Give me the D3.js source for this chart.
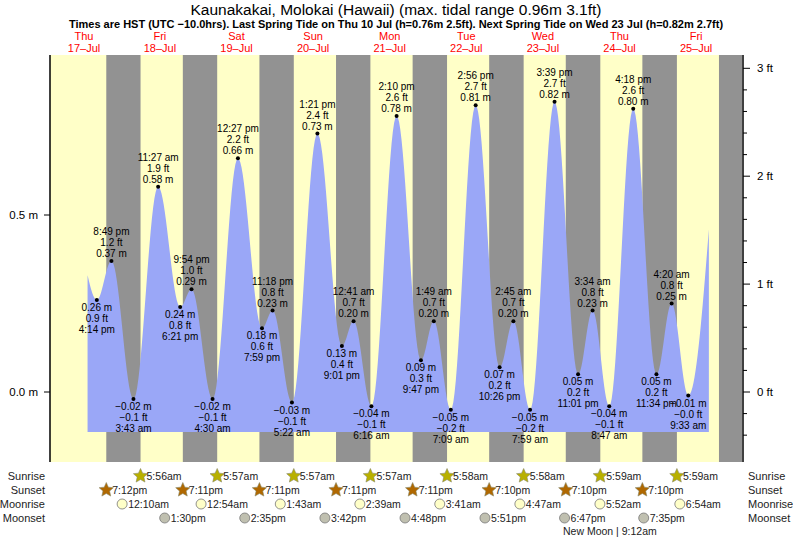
<!DOCTYPE html>
<html><head><meta charset="utf-8">
<script src="https://cdn.jsdelivr.net/npm/d3@7"></script>
<style>body{margin:0;background:#fff}text{font-family:"Liberation Sans",Arial,sans-serif}</style>
</head><body><svg id="c" width="793" height="539"></svg>
<script>
// Days (July), labels
const dayNames=["Thu","Fri","Sat","Sun","Mon","Tue","Wed","Thu","Fri"];
const dayDates=[17,18,19,20,21,22,23,24,25];
// Tide extremes
const tideDay=[17,17,18,18,18,18,19,19,19,19,20,20,20,21,21,21,21,22,22,22,22,23,23,23,23,24,24,24,24,25,25];
const tideTime=["4:14 pm","8:49 pm","3:43 am","11:27 am","6:21 pm","9:54 pm","4:30 am","12:27 pm","7:59 pm","11:18 pm","5:22 am","1:21 pm","9:01 pm","12:41 am","6:16 am","2:10 pm","9:47 pm","1:49 am","7:09 am","2:56 pm","10:26 pm","2:45 am","7:59 am","3:39 pm","11:01 pm","3:34 am","8:47 am","4:18 pm","11:34 pm","4:20 am","9:33 am"];
const tideM=[0.26,0.37,-0.02,0.58,0.24,0.29,-0.02,0.66,0.18,0.23,-0.03,0.73,0.13,0.20,-0.04,0.78,0.09,0.20,-0.05,0.81,0.07,0.20,-0.05,0.82,0.05,0.23,-0.04,0.80,0.05,0.25,-0.01];
const tideFt=["0.9","1.2","-0.1","1.9","0.8","1.0","-0.1","2.2","0.6","0.8","-0.1","2.4","0.4","0.7","-0.1","2.6","0.3","0.7","-0.2","2.7","0.2","0.7","-0.2","2.7","0.2","0.8","-0.1","2.6","0.2","0.8","-0.0"];
const tideHigh=[0,1,0,1,0,1,0,1,0,1,0,1,0,1,0,1,0,1,0,1,0,1,0,1,0,1,0,1,0,1,0];
const startPt={day:17,time:"1:20 pm",m:0.33};
const endPt={day:25,time:"4:00 pm",m:0.46};
const sunriseDay=[18,19,20,21,22,23,24,25];
const sunrise=["5:56am","5:57am","5:57am","5:57am","5:58am","5:58am","5:59am","5:59am"];
const sunsetDay=[17,18,19,20,21,22,23,24,25];
const sunset=["7:12pm","7:11pm","7:11pm","7:11pm","7:11pm","7:10pm","7:10pm","7:10pm","7:10pm"];
const moonriseDay=[18,19,20,21,22,23,24,25];
const moonrise=["12:10am","12:54am","1:43am","2:39am","3:41am","4:47am","5:52am","6:54am"];
const moonsetDay=[18,19,20,21,22,23,24];
const moonset=["1:30pm","2:35pm","3:42pm","4:48pm","5:51pm","6:47pm","7:35pm"];
const mTicks=[0,0.5], ftTicks=[0,1,2,3];

function hrs(day,t){const m=t.match(/(\d+):(\d+)\s*(am|pm)/);let h=+m[1]%12;if(m[3]=="pm")h+=12;return (day-17)*24+h+ +m[2]/60;}
const svg=d3.select("#c");
const x=d3.scaleLinear().domain([0,24]).range([45,121.6]);
const L=50,R=742,T=55,B=462;
const y=d3.scaleLinear().domain([0,0.5]).range([392,215]);
svg.append("rect").attr("x",L).attr("y",T).attr("width",R-L).attr("height",B-T).attr("fill","#ffffc8");
sunsetDay.forEach((d,i)=>{const s=x(hrs(d,sunset[i]));const j=sunriseDay.indexOf(d+1);const e=j>=0?x(hrs(d+1,sunrise[j])):R;
 svg.append("rect").attr("x",s).attr("y",T).attr("width",Math.min(e,R)-s).attr("height",B-T).attr("fill","#929292");});
const pts=[{h:hrs(startPt.day,startPt.time),m:startPt.m}].concat(tideM.map((m,i)=>({h:hrs(tideDay[i],tideTime[i]),m}))).concat([{h:hrs(endPt.day,endPt.time),m:endPt.m}]);
const curve=[];
for(let i=0;i<pts.length-1;i++){const a=pts[i],b=pts[i+1];
 const first=i==0,last=i==pts.length-2;
 for(let k=0;k<=20;k++){const f=k/20;let v;
  if(first)v=a.m+(b.m-a.m)*Math.sin(f*Math.PI/2);
  else if(last)v=a.m+(b.m-a.m)*(1-Math.cos(f*Math.PI/2));
  else v=a.m+(b.m-a.m)*(1-Math.cos(f*Math.PI))/2;
  curve.push([a.h+(b.h-a.h)*f,v]);}}
const base=-0.113;
svg.append("path").attr("d",d3.area().x(d=>x(d[0])).y0(y(base)).y1(d=>y(d[1]))(curve)).attr("fill","#9aa7f7");
tideM.forEach((m,i)=>{const px=x(hrs(tideDay[i],tideTime[i])),py=y(m);
 svg.append("circle").attr("cx",px).attr("cy",py).attr("r",2).attr("fill","#000");
 const lines=tideHigh[i]?[tideTime[i],tideFt[i]+" ft",m.toFixed(2)+" m"]:[(m<0?"\u2212"+Math.abs(m).toFixed(2):m.toFixed(2))+" m",tideFt[i].replace("-","\u2212")+" ft",tideTime[i]];
 lines.forEach((t,k)=>{const yy=tideHigh[i]?py-4-(2-k)*11:py+11+k*11;
  svg.append("text").attr("x",px).attr("y",yy).attr("text-anchor","middle").attr("font-size",10).attr("fill","#000").text(t);});});
svg.append("line").attr("x1",L).attr("x2",L).attr("y1",T).attr("y2",B).attr("stroke","#000").attr("stroke-width",1.5);
svg.append("line").attr("x1",R+1).attr("x2",R+1).attr("y1",T).attr("y2",B).attr("stroke","#000").attr("stroke-width",1.5);
mTicks.forEach(v=>{svg.append("line").attr("x1",L-6).attr("x2",L).attr("y1",y(v)).attr("y2",y(v)).attr("stroke","#000");
 svg.append("text").attr("x",L-12).attr("y",y(v)+4).attr("text-anchor","end").attr("font-size",11.5).text(v.toFixed(1)+" m");});
for(let f=-0.4;f<=3.01;f+=0.2){const yy=y(f*0.3048);if(yy<T||yy>B)continue;const maj=Math.abs(f-Math.round(f))<1e-6;
 svg.append("line").attr("x1",R+1).attr("x2",R+(maj?8:5)).attr("y1",yy).attr("y2",yy).attr("stroke","#000");}
ftTicks.forEach(f=>svg.append("text").attr("x",R+15).attr("y",y(f*0.3048)+4).attr("font-size",11.5).text(f+" ft"));
svg.append("text").attr("x",396).attr("y",15).attr("text-anchor","middle").attr("font-size",15.5).text("Kaunakakai, Molokai (Hawaii) (max. tidal range 0.96m 3.1ft)");
svg.append("text").attr("x",396).attr("y",28).attr("text-anchor","middle").attr("font-size",11).attr("font-weight","bold").text("Times are HST (UTC \u221210.0hrs). Last Spring Tide on Thu 10 Jul (h=0.76m 2.5ft). Next Spring Tide on Wed 23 Jul (h=0.82m 2.7ft)");
dayDates.forEach((d,i)=>{let px=x((d-17)*24+12);if(i==0)px=84;
 svg.append("text").attr("x",px).attr("y",40).attr("text-anchor","middle").attr("font-size",11).attr("fill","#f00").text(dayNames[i]);
 svg.append("text").attr("x",px).attr("y",52).attr("text-anchor","middle").attr("font-size",11).attr("fill","#f00").text(d+"\u2013Jul");});
const rows=[["Sunrise",480],["Sunset",494],["Moonrise",508],["Moonset",522]];
rows.forEach(([t,yy])=>{svg.append("text").attr("x",45).attr("y",yy).attr("text-anchor","end").attr("font-size",11).attr("fill","#222").text(t);
 svg.append("text").attr("x",748).attr("y",yy).attr("font-size",11).attr("fill","#222").text(t);});
function star(cx,cy,col){const p=[];for(let k=0;k<10;k++){const r=k%2?3.5:7.5,a=-Math.PI/2+k*Math.PI/5;p.push([cx+r*Math.cos(a),cy+r*Math.sin(a)]);}
 svg.append("polygon").attr("points",p.map(q=>q.join(",")).join(" ")).attr("fill",col).attr("stroke","#886").attr("stroke-width",0.6);}
function ev(days,times,yy,kind){days.forEach((d,i)=>{const px=x(hrs(d,times[i]));
 if(kind=="rise")star(px,yy-4,"#b8b000");else if(kind=="set")star(px,yy-4,"#b06800");
 else svg.append("circle").attr("cx",px).attr("cy",yy-4).attr("r",5).attr("fill",kind=="mr"?"#ffffc8":"#c0c0b0").attr("stroke","#777").attr("stroke-width",0.8);
 svg.append("text").attr("x",px+6).attr("y",yy).attr("font-size",10.5).attr("fill","#222").text(times[i]);});}
ev(sunriseDay,sunrise,480,"rise");ev(sunsetDay.slice(0,8),sunset.slice(0,8),494,"set");ev(moonriseDay,moonrise,508,"mr");ev(moonsetDay,moonset,522,"ms");
svg.append("text").attr("x",563).attr("y",535).attr("font-size",10.5).attr("fill","#222").text("New Moon | 9:12am");
</script></body></html>
